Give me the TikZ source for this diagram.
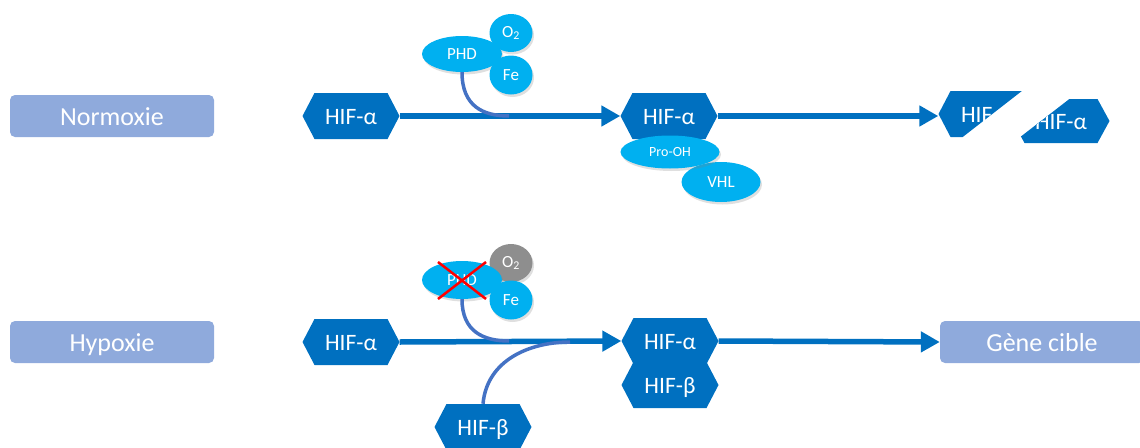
\documentclass[tikz,border=0pt]{standalone}
\usepackage{fontspec}
\setmainfont{Carlito}
\usetikzlibrary{arrows.meta,shapes.geometric,shadows,calc}
\definecolor{hifblue}{HTML}{0070C0}
\definecolor{cyanb}{HTML}{00B0F0}
\definecolor{labb}{HTML}{8FAADC}
\definecolor{curveb}{HTML}{4472C4}
\definecolor{grayb}{HTML}{8E8E8E}
\begin{document}
\begin{tikzpicture}[x=1pt,y=-1pt,
  hexn/.style={minimum width=97pt, minimum height=46pt, inner sep=0pt, text=white,
    text height=16pt, text depth=0pt,
    font=\fontsize{23.5}{27}\selectfont,
    path picture={\fill[hifblue] (path picture bounding box.west)
      -- ([xshift=12pt]path picture bounding box.north west)
      -- ([xshift=-12pt]path picture bounding box.north east)
      -- (path picture bounding box.east)
      -- ([xshift=-12pt]path picture bounding box.south east)
      -- ([xshift=12pt]path picture bounding box.south west) -- cycle;}},
  labbox/.style={rectangle, rounded corners=5pt, fill=labb, text=white,
    text height=18pt, text depth=0pt,
    minimum width=204pt, minimum height=42pt, inner sep=0pt, font=\fontsize{26}{30}\selectfont},
  mol/.style={ellipse, fill=cyanb, text=white, inner sep=0pt,
    drop shadow={opacity=0.25, shadow xshift=1.5pt, shadow yshift=-2.5pt},
    font=\fontsize{17}{20}\selectfont},
  mainarrow/.style={draw=hifblue, line width=5.5pt, -{Triangle[length=19pt,width=20pt]}},
  bind/.style={draw=curveb, line width=3.5pt},
  cross/.style={draw=red, line width=2.5pt}
]
\useasboundingbox (0,0) rectangle (1140,447);

% ---------- Normoxie ----------
\node[labbox] (norm) at (112,116) {Normoxie};
\node[hexn] (na1) at (351,116) {HIF-α};
\node[hexn] (na2) at (669,116) {HIF-α};

\node[mol, minimum width=43pt, minimum height=38pt] (o2a) at (511,33) {O\textsubscript{2}};
\node[mol, minimum width=80pt, minimum height=36pt] (phda) at (462,54) {PHD};
\node[mol, minimum width=43pt, minimum height=39pt] (fea) at (511,75) {Fe};

\coordinate (bna) at (509,116);
\draw[mainarrow] (na1.east) -- (na2.west);
\draw[bind] (phda.south) .. controls ($(phda.south)+(0,34)$) and ($(bna)+(-26,0)$) .. (bna);

\node[mol, minimum width=79pt, minimum height=40pt] (vhl) at (721,182) {VHL};
\node[mol, minimum width=99pt, minimum height=33pt, font=\fontsize{14}{16}\selectfont] (pro) at (670,152) {Pro-OH};

% broken HIF-alpha
\begin{scope}
  \clip (900,80) -- (1036,80) -- (946,150) -- (900,150) -- cycle;
  \node[hexn] (nb1) at (987,114) {HIF-α};
\end{scope}
\begin{scope}
  \clip (1081,90) -- (1130,90) -- (1130,155) -- (997,155) -- cycle;
  \node[hexn, minimum height=44pt] (nb2) at (1061,121) {HIF-α};
\end{scope}
\draw[mainarrow] (na2.east) -- (na2.east -| nb1.west);

% ---------- Hypoxie ----------
\node[labbox] (hyp) at (112,342) {Hypoxie};
\node[hexn] (ha1) at (351,342) {HIF-α};
\node[hexn] (ha2) at (670,341) {HIF-α};
\node[hexn] (hb2) at (670,385) {HIF-β};
\node[hexn] (hb3) at (483,427) {HIF-β};
\node[labbox] (gene) at (1042,342) {Gène cible};

\node[mol, fill=grayb, minimum width=43pt, minimum height=38pt] (o2b) at (511,263) {O\textsubscript{2}};
\node[mol, minimum width=80pt, minimum height=38pt] (phdb) at (462,280) {PHD};
\node[mol, minimum width=43pt, minimum height=39pt] (feb) at (511,300) {Fe};
\draw[cross] ($(phdb.center)+(-24,-18)$) -- ($(phdb.center)+(24,19)$);
\draw[cross] ($(phdb.center)+(24,-18)$) -- ($(phdb.center)+(-24,19)$);

\coordinate (bnb) at (509,341);
\coordinate (bnc) at (570,342);
\draw[mainarrow] (ha1.east) -- (ha2.west);
\draw[bind] (phdb.south) .. controls ($(phdb.south)+(0,32)$) and ($(bnb)+(-26,0)$) .. (bnb);
\draw[bind] (hb3.north) .. controls ($(hb3.north)+(4,-44)$) and ($(bnc)+(-40,0)$) .. (bnc);
\draw[mainarrow] (ha2.east) -- (gene.west);
\end{tikzpicture}
\end{document}
